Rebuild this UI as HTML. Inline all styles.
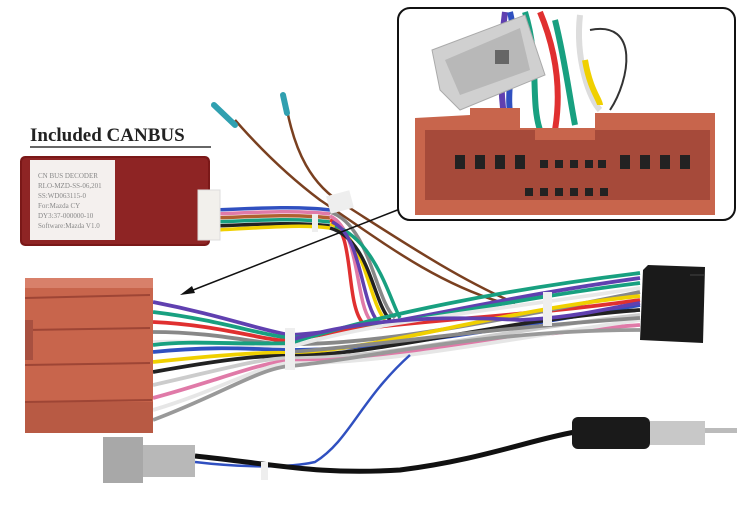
<!DOCTYPE html>
<html><head><meta charset="utf-8"><style>
html,body{margin:0;padding:0;background:#fff;}
svg{display:block;}
</style></head><body>
<svg width="750" height="511" viewBox="0 0 750 511" xmlns="http://www.w3.org/2000/svg">
<rect width="750" height="511" fill="#fff"/>
<text x="30" y="141" font-family="Liberation Serif, serif" font-weight="bold" font-size="19" fill="#222">Included CANBUS</text>
<line x1="30" y1="147" x2="211" y2="147" stroke="#333" stroke-width="1.5"/>

<!-- wires from canbus to middle -->
<g fill="none" stroke-width="3.5">
<path d="M215 210 C260 208 300 206 330 210" stroke="#3050c0"/>
<path d="M215 214 C260 212 300 210 330 214" stroke="#e07aa8"/>
<path d="M215 218 C260 216 300 214 330 218" stroke="#b06030"/>
<path d="M215 222 C260 220 300 218 330 222" stroke="#18a080"/>
<path d="M215 226 C260 224 300 222 330 226" stroke="#222"/>
<path d="M215 230 C260 228 300 224 330 228" stroke="#f0d000"/>
<path d="M330 212 C370 225 375 300 395 318" stroke="#888"/>
<path d="M330 220 C355 230 345 300 362 322" stroke="#e03030"/>
<path d="M330 216 C360 230 355 300 370 320" stroke="#e07aa8"/>
<path d="M330 224 C365 235 368 300 385 320" stroke="#f0d000"/>
<path d="M330 228 C370 240 372 300 390 320" stroke="#222"/>
<path d="M335 226 C375 240 390 300 400 318" stroke="#18a080"/>
<path d="M332 222 C362 235 360 300 378 322" stroke="#6040b0"/>
</g>
<g fill="none" stroke="#7a4020" stroke-width="2.5">
<path d="M235 120 C270 160 300 185 320 200 C380 240 430 280 500 302"/>
<path d="M287 110 C295 150 310 185 345 205 C400 240 460 280 515 303"/>
</g>
<path d="M214 105 L235 125" stroke="#30a0b0" stroke-width="6" stroke-linecap="round"/>
<path d="M283 95 L287 113" stroke="#30a0b0" stroke-width="6" stroke-linecap="round"/>
<rect x="328" y="193" width="24" height="18" fill="#eee" transform="rotate(-15 340 202)"/>
<rect x="312" y="214" width="6" height="18" fill="#eee"/>

<!-- canbus box -->
<rect x="20" y="156" width="190" height="90" rx="5" fill="#7a1818"/>
<rect x="22" y="158" width="186" height="86" rx="4" fill="#8e2424"/>
<rect x="30" y="160" width="85" height="80" fill="#f4f0ee"/>
<g font-family="Liberation Serif, serif" font-size="7" fill="#888">
<text x="38" y="178">CN BUS DECODER</text>
<text x="38" y="188">RLO-MZD-SS-06,201</text>
<text x="38" y="198">SS:WD063115-0</text>
<text x="38" y="208">For:Mazda CY</text>
<text x="38" y="218">DY3:37-000000-10</text>
<text x="38" y="228">Software:Mazda V1.0</text>
</g>
<rect x="198" y="190" width="22" height="50" fill="#f2f0ec" stroke="#ddd"/>

<!-- main bundle -->
<g fill="none" stroke-width="3.8">
<path d="M153 302 C220 315 260 330 290 335 C380 330 480 300 640 278" stroke="#6040b0"/>
<path d="M153 312 C220 320 260 335 290 338 C380 330 500 300 640 283" stroke="#18a080"/>
<path d="M153 322 C220 325 260 340 290 341 C380 320 500 320 640 300" stroke="#e03030"/>
<path d="M153 332 C220 332 260 345 290 344 C380 345 500 320 640 292" stroke="#888"/>
<path d="M153 342 C220 340 260 348 290 347 C380 320 500 310 640 288" stroke="#e8e8e8"/>
<path d="M153 352 C220 345 260 350 290 350 C380 350 500 330 640 305" stroke="#3050c0"/>
<path d="M153 362 C220 355 260 352 290 353 C380 350 500 310 640 296" stroke="#f0d000"/>
<path d="M153 372 C220 360 260 355 290 356 C380 355 500 320 640 310" stroke="#222"/>
<path d="M153 385 C220 370 260 358 290 358 C380 360 500 330 640 315" stroke="#ccc"/>
<path d="M153 398 C220 380 260 362 290 361 C380 362 500 335 640 325" stroke="#e07aa8"/>
<path d="M153 410 C220 390 260 365 290 363 C380 365 500 340 640 320" stroke="#e6e6e6"/>
<path d="M153 420 C220 395 260 368 290 366 C360 360 480 330 640 330" stroke="#999"/>
<path d="M153 345 C190 340 240 345 290 343 C380 315 500 290 640 273" stroke="#18a080"/>
<path d="M290 340 C360 320 430 315 520 320 C570 318 600 310 640 303" stroke="#6040b0"/>
<path d="M290 352 C380 345 440 335 520 328 C580 322 610 320 640 318" stroke="#888"/>
</g>
<rect x="285" y="328" width="10" height="42" fill="#eee"/>
<rect x="543" y="292" width="9" height="34" fill="#eee"/>
<path d="M410 355 C360 400 350 440 315 462 C280 470 220 465 195 462" fill="none" stroke="#3050c0" stroke-width="2.5"/>
<path d="M195 456 C280 465 320 475 400 470 C480 460 530 440 575 432" fill="none" stroke="#111" stroke-width="5"/>
<rect x="261" y="462" width="7" height="18" fill="#eee"/>

<!-- big connector -->
<rect x="25" y="278" width="128" height="155" fill="#c8654c"/>
<rect x="25" y="278" width="128" height="10" fill="#d8806a"/>
<rect x="25" y="402" width="128" height="31" fill="#b85a44"/>
<line x1="25" y1="298" x2="150" y2="295" stroke="#9e4535" stroke-width="2"/>
<line x1="25" y1="330" x2="150" y2="328" stroke="#9e4535" stroke-width="2"/>
<line x1="25" y1="365" x2="150" y2="363" stroke="#9e4535" stroke-width="2"/>
<line x1="25" y1="402" x2="152" y2="400" stroke="#9e4535" stroke-width="2"/>
<rect x="25" y="320" width="8" height="40" fill="#a85040"/>

<polygon points="648,265 705,267 703,343 640,340 643,270" fill="#1a1a1a"/>
<line x1="690" y1="275" x2="705" y2="275" stroke="#444"/>

<rect x="103" y="437" width="40" height="46" fill="#a8a8a8"/>
<rect x="143" y="445" width="52" height="32" fill="#b8b8b8"/>

<rect x="572" y="417" width="78" height="32" rx="6" fill="#1a1a1a"/>
<rect x="650" y="421" width="55" height="24" fill="#c8c8c8"/>
<rect x="705" y="428" width="32" height="5" fill="#bbb"/>

<line x1="400" y1="209" x2="188" y2="292" stroke="#111" stroke-width="1.5"/>
<polygon points="180,295 192,286 195,293" fill="#111"/>

<!-- inset -->
<rect x="398" y="8" width="337" height="212" rx="12" fill="#fff" stroke="#111" stroke-width="2"/>
<g fill="none" stroke-width="6">
<path d="M505 12 C500 50 500 90 505 125" stroke="#6040b0"/>
<path d="M540 12 C560 60 560 100 555 130" stroke="#e03030"/>
<path d="M525 12 C540 60 530 100 540 130" stroke="#18a080"/>
<path d="M510 12 C520 50 500 100 515 130" stroke="#3050c0"/>
<path d="M580 15 C575 60 590 100 600 110" stroke="#ddd"/>
<path d="M590 30 C640 20 630 80 610 110" stroke="#333" stroke-width="2"/>
<path d="M585 60 C590 90 600 100 600 105" stroke="#f0d000"/>
<path d="M555 20 C565 60 570 100 575 125" stroke="#18a080"/>
</g>
<polygon points="432,50 525,15 545,75 460,110 440,90" fill="#d0d0d0" stroke="#aaa"/>
<polygon points="445,60 520,28 530,70 460,95" fill="#b8b8b8"/>
<rect x="495" y="50" width="14" height="14" fill="#666"/>
<polygon points="415,118 470,115 470,108 520,108 520,128 595,128 595,113 715,113 715,215 415,215" fill="#c8654c"/>
<rect x="425" y="130" width="285" height="70" fill="#a64a3a"/>
<rect x="535" y="128" width="60" height="12" fill="#c8654c"/>
<g fill="#222">
<rect x="455" y="155" width="10" height="14"/><rect x="475" y="155" width="10" height="14"/><rect x="495" y="155" width="10" height="14"/><rect x="515" y="155" width="10" height="14"/>
<rect x="540" y="160" width="8" height="8"/><rect x="555" y="160" width="8" height="8"/><rect x="570" y="160" width="8" height="8"/><rect x="585" y="160" width="8" height="8"/><rect x="598" y="160" width="8" height="8"/>
<rect x="620" y="155" width="10" height="14"/><rect x="640" y="155" width="10" height="14"/><rect x="660" y="155" width="10" height="14"/><rect x="680" y="155" width="10" height="14"/>
<rect x="525" y="188" width="8" height="8"/><rect x="540" y="188" width="8" height="8"/><rect x="555" y="188" width="8" height="8"/><rect x="570" y="188" width="8" height="8"/><rect x="585" y="188" width="8" height="8"/><rect x="600" y="188" width="8" height="8"/>
</g>
</svg>
</body></html>
